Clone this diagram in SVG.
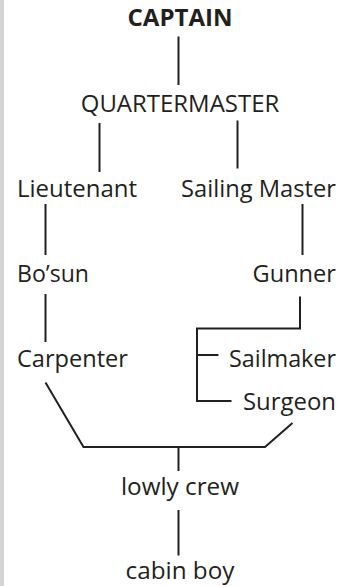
<svg xmlns="http://www.w3.org/2000/svg" width="354" height="586" viewBox="0 0 354 586">
<style>
text{font-family:"Open Sans","Noto Sans",sans-serif;font-size:24px;fill:#231f20}
.b{font-weight:bold}
.c{text-anchor:middle}
.e{text-anchor:end}
#connectors path,#connectors line{stroke:#231f20;stroke-width:2;fill:none}
</style>
<rect x="0" y="0" width="354" height="586" fill="#ffffff"/>
<rect x="0" y="0" width="4" height="586" fill="#d4d4d6"/>
<g id="connectors">
<line x1="178.5" y1="36.5" x2="178.5" y2="85"/>
<line x1="99.5" y1="123" x2="99.5" y2="172"/>
<line x1="237.5" y1="120.5" x2="237.5" y2="168.5"/>
<line x1="45.5" y1="204" x2="45.5" y2="255"/>
<line x1="302.5" y1="204" x2="302.5" y2="255"/>
<line x1="45.5" y1="294" x2="45.5" y2="342"/>
<path d="M300 296.5 V328.5 H197 V401 H231.5"/>
<line x1="197" y1="355" x2="218.5" y2="355"/>
<path d="M45.5 382.5 L83.5 447 H265 L292.5 423"/>
<line x1="178.5" y1="447" x2="178.5" y2="471"/>
<line x1="178.5" y1="510" x2="178.5" y2="555.5"/>
</g>
<g id="captain"><text class="b c" x="180" y="26" textLength="105" lengthAdjust="spacingAndGlyphs">CAPTAIN</text></g>
<g id="quartermaster"><text class="c" x="180" y="112.3" textLength="198.5" lengthAdjust="spacingAndGlyphs">QUARTERMASTER</text></g>
<g id="lieutenant"><text x="17" y="197.3" textLength="120" lengthAdjust="spacingAndGlyphs">Lieutenant</text></g>
<g id="sailing-master"><text class="e" x="336" y="197.3" textLength="155" lengthAdjust="spacingAndGlyphs">Sailing Master</text></g>
<g id="bosun"><text x="17" y="281.7" textLength="72" lengthAdjust="spacingAndGlyphs">Bo’sun</text></g>
<g id="gunner"><text class="e" x="336" y="281.7" textLength="83.5" lengthAdjust="spacingAndGlyphs">Gunner</text></g>
<g id="carpenter"><text x="17" y="366.7" textLength="111" lengthAdjust="spacingAndGlyphs">Carpenter</text></g>
<g id="sailmaker"><text class="e" x="336" y="366.7" textLength="107" lengthAdjust="spacingAndGlyphs">Sailmaker</text></g>
<g id="surgeon"><text class="e" x="336" y="410" textLength="93" lengthAdjust="spacingAndGlyphs">Surgeon</text></g>
<g id="lowly-crew"><text class="c" x="180" y="495.3" textLength="118" lengthAdjust="spacingAndGlyphs">lowly crew</text></g>
<g id="cabin-boy"><text class="c" x="180" y="579.3" textLength="109" lengthAdjust="spacingAndGlyphs">cabin boy</text></g>
</svg>
